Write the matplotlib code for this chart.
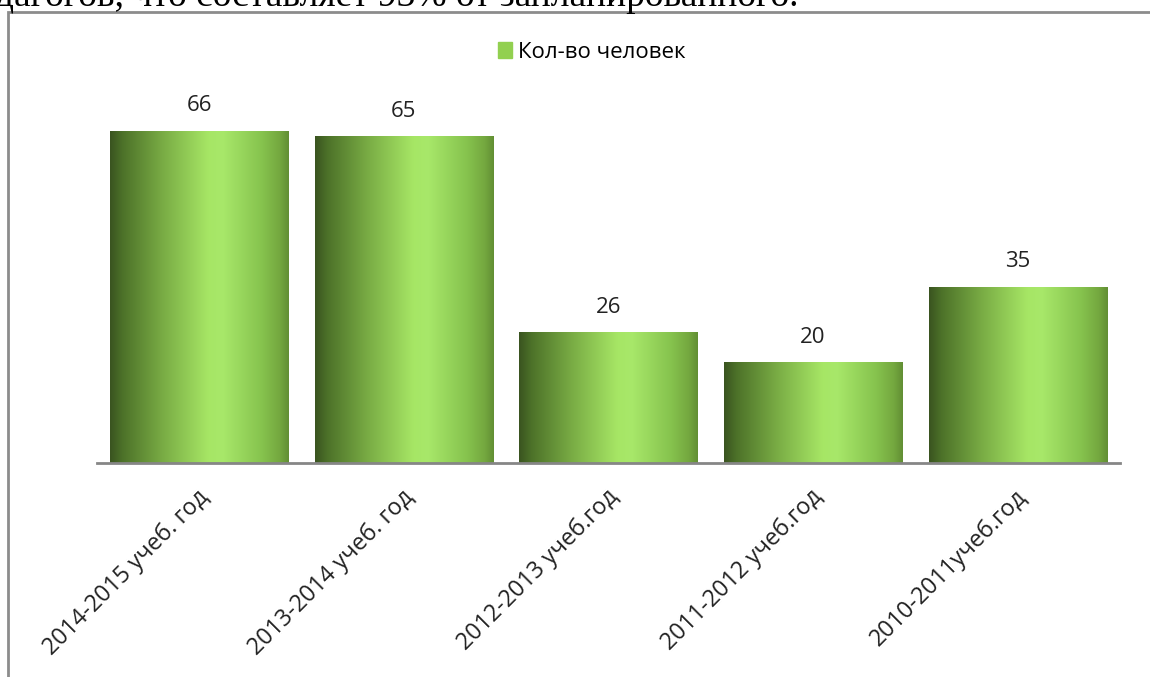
import numpy as np
import matplotlib.pyplot as plt
from matplotlib.colors import LinearSegmentedColormap
from matplotlib.patches import Patch, Rectangle
from matplotlib.transforms import ScaledTranslation

plt.rcParams['font.family'] = ['Open Sans', 'DejaVu Sans']

years = ["2014-2015 учеб. год", "2013-2014 учеб. год", "2012-2013 учеб.год",
         "2011-2012 учеб.год", "2010-2011учеб.год"]
people = [66, 65, 26, 20, 35]
series_name = "Кол-во человек"

# cylinder-like shading, dark on the left, highlight right of centre
shade = LinearSegmentedColormap.from_list("shade", [
    (0.00, "#3a5420"), (0.07, "#4d7229"), (0.30, "#7aad45"),
    (0.55, "#a6e665"), (0.63, "#a8e86a"), (0.85, "#86c34e"),
    (0.95, "#74a83f"), (1.00, "#628f34")])
grad = np.linspace(0, 1, 256).reshape(1, -1)

fig = plt.figure(figsize=(11.5, 6.77), dpi=100)
ax = fig.add_axes([0.0843, 0.3161, 0.8896, 0.52])

x = np.arange(len(years))
bars = ax.bar(x, people, width=0.87, color="none", edgecolor="none")
for b in bars:
    x0, w, h = b.get_x(), b.get_width(), b.get_height()
    im = ax.imshow(grad, extent=[x0, x0 + w, 0, h], aspect="auto",
                   cmap=shade, zorder=2, interpolation="bicubic")
    im.set_clip_path(b)

for xi, v in zip(x, people):
    ax.annotate(str(v), (xi, v), xytext=(0, 10.5), textcoords="offset points",
                ha="center", va="bottom", fontsize=16, color="#222222")

ax.set_xlim(-0.5, len(years) - 0.5)
ax.set_ylim(0, 70)
ax.set_yticks([])
ax.set_xticks(x)
ax.set_xticklabels(years, rotation=45, ha="right", va="center",
                   rotation_mode="anchor", fontsize=16.8, color="#222222")
ax.tick_params(axis="x", length=0, pad=22)
for lab in ax.get_xticklabels():
    lab.set_transform(lab.get_transform() + ScaledTranslation(0.06, 0, fig.dpi_scale_trans))

for s in ["left", "top", "right"]:
    ax.spines[s].set_visible(False)
ax.spines["bottom"].set_color("#868686")
ax.spines["bottom"].set_linewidth(2)

fig.legend(handles=[Patch(color="#92d050", label=series_name)],
           loc="center", bbox_to_anchor=(592 / 1150, 1 - 52 / 677),
           frameon=False, fontsize=16, handlelength=0.6, handleheight=0.7,
           handletextpad=0.3)

# chart frame (runs off the page at right and bottom)
fig.patches.append(Rectangle((8 / 1150, -0.1), 1.2, 1.1 - 12 / 677,
                             transform=fig.transFigure, fill=False,
                             edgecolor="#8c8c8c", linewidth=2))

# line of document text cut off above the chart
fig.text(-0.004, 1 - 6 / 677, "дагогов, что составляет 93% от запланированного.",
         family=["Liberation Serif", "DejaVu Serif"], fontsize=27,
         va="baseline", ha="left", color="black")

fig.savefig("out.png", dpi=100)
